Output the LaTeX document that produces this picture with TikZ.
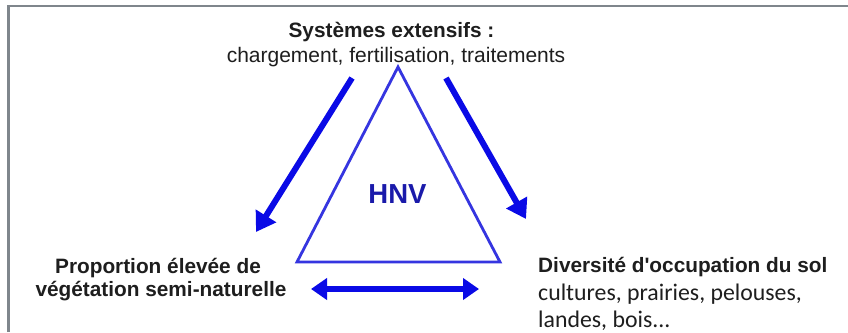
\documentclass[tikz,border=0pt]{standalone}
\usepackage{fontspec}
\setmainfont{Liberation Sans}
\newfontfamily\calfont{Carlito}
\usetikzlibrary{arrows.meta}
\definecolor{framegray}{HTML}{7F868C}
\definecolor{txt}{HTML}{1E1E1E}
\definecolor{arrblue}{HTML}{0A0AE6}
\definecolor{triblue}{HTML}{3535E0}
\definecolor{hnvblue}{HTML}{1A1AAA}
\tikzset{
  lbl/.style={anchor=base, inner sep=0pt, text=txt},
  boldlbl/.style={lbl, font=\bfseries\fontsize{20.8}{24}\selectfont},
  reglbl/.style={lbl, font=\fontsize{21}{24}\selectfont},
  callbl/.style={lbl, anchor=base west, font=\calfont\fontsize{23.8}{27}\selectfont},
  bigarrow/.style={draw=arrblue, line width=6pt, -{Triangle[length=19pt,width=23pt]}},
  dblarrow/.style={draw=arrblue, line width=6pt, {Triangle[length=16pt,width=21pt]}-{Triangle[length=16pt,width=21pt]}},
  tri/.style={draw=triblue, line width=2.8pt, line join=miter}
}
\begin{document}
\begin{tikzpicture}[x=1pt,y=-1pt]
\useasboundingbox (0,0) rectangle (848,332);
\fill[white] (0,0) rectangle (848,332);
% frame
\draw[framegray, line width=2.6pt] (8.5,332) -- (8.5,6) -- (848,6);
% texts
\node[boldlbl] (t1) at (391.5,37) {Systèmes extensifs :};
\node[reglbl] (t2) at (396,62) {chargement, fertilisation, traitements};
\node[boldlbl] (l1) at (158,273) {Proportion élevée de};
\node[boldlbl] (l2) at (161,296) {végétation semi-naturelle};
\node[boldlbl, anchor=base west] (r1) at (538,272) {Diversité d\textquotesingle occupation du sol};
\node[callbl] (r2) at (538,300) {cultures, prairies, pelouses,};
\node[callbl] (r3) at (538,327) {landes, bois...};
% triangle
\coordinate (apex) at (398,67);
\coordinate (bl) at (297,262);
\coordinate (br) at (500,262);
\draw[tri] (apex) -- (bl) -- (br) -- cycle;
\node[anchor=base, inner sep=0pt, text=hnvblue, font=\bfseries\fontsize{27.5}{30}\selectfont] (hnv) at (397.5,203) {HNV};
% arrows
\coordinate (a1s) at (352,78);
\coordinate (a1e) at (256,232);
\coordinate (a2s) at (446,78);
\coordinate (a2e) at (526,219);
\coordinate (a3s) at (311,289);
\coordinate (a3e) at (479,289);
\draw[bigarrow] (a1s) -- (a1e);
\draw[bigarrow] (a2s) -- (a2e);
\draw[dblarrow] (a3s) -- (a3e);
\end{tikzpicture}
\end{document}
